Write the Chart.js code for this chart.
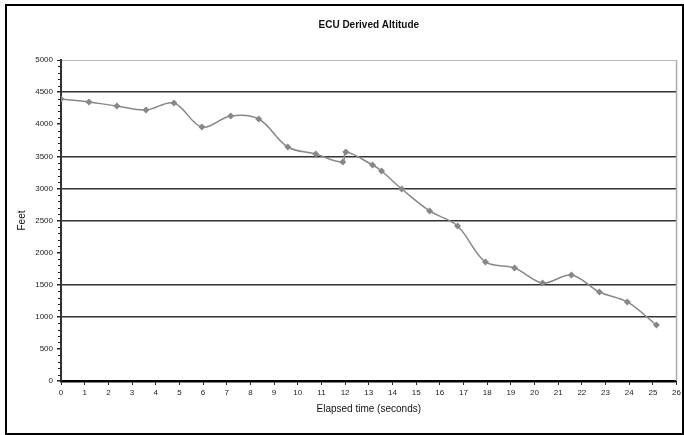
<!DOCTYPE html>
<html>
<head>
<meta charset="utf-8">
<script src="https://cdn.jsdelivr.net/npm/chart.js@4/dist/chart.umd.min.js"></script>
<style>
  html, body { margin: 0; padding: 0; background: #fff; }
  #wrap { position: relative; width: 684px; height: 435px; }
  #frame { position: absolute; left: 5px; top: 4px; width: 675px; height: 427px;
           border: 2px solid #000; pointer-events: none; }
  canvas { position: absolute; left: 0; top: 0; }
</style>
</head>
<body>
<div id="wrap">
  <canvas id="c" width="684" height="435"></canvas>
  <div id="frame"></div>
</div>
<script>
// Elapsed time (s) and ECU-derived altitude (ft)
const elapsedSeconds = [0, 1.18, 2.36, 3.59, 4.77, 5.95, 7.17, 8.35, 9.58, 10.76, 11.9, 12.03,
  13.16, 13.54, 14.39, 15.57, 16.75, 17.93, 19.16, 20.34, 21.56, 22.74, 23.92, 25.15];
const altitudeFeet = [4393, 4346, 4283, 4221, 4330, 3956, 4128, 4081, 3645, 3536, 3411, 3567,
  3364, 3271, 2991, 2648, 2414, 1854, 1760, 1526, 1651, 1386, 1231, 872];

const titleText = 'ECU Derived Altitude';
const xTitle = 'Elapsed time (seconds)';
const yTitle = 'Feet';

// gridlines that are drawn strongly; others are left out
const strongGrid = [1000, 1500, 2500, 3000, 3500, 4500];

const points = elapsedSeconds.map((t, i) => ({ x: t, y: altitudeFeet[i] }));

const decorations = {
  id: 'decorations',
  afterDraw(chart) {
    const { ctx, chartArea: a, scales } = chart;
    ctx.save();
    // right edge of the plot
    ctx.strokeStyle = '#aaa';
    ctx.lineWidth = 1.5;
    ctx.beginPath();
    ctx.moveTo(a.right, a.top);
    ctx.lineTo(a.right, a.bottom);
    ctx.stroke();
    // minor ticks on the value axis
    ctx.strokeStyle = '#222';
    ctx.lineWidth = 1;
    for (let v = 100; v < 5000; v += 100) {
      if (v % 500 === 0) continue;
      const y = Math.round(scales.y.getPixelForValue(v)) + 0.5;
      ctx.beginPath();
      ctx.moveTo(a.left - 3, y);
      ctx.lineTo(a.left, y);
      ctx.stroke();
    }
    const cx = (a.left + a.right) / 2;
    ctx.fillStyle = '#111';
    ctx.textAlign = 'center';
    ctx.textBaseline = 'middle';
    ctx.font = 'bold 10px "Liberation Sans", Arial, sans-serif';
    ctx.fillText(titleText, cx, 25);
    ctx.font = '10px "Liberation Sans", Arial, sans-serif';
    ctx.fillText(xTitle, cx, 409);
    ctx.translate(22, (a.top + a.bottom) / 2);
    ctx.rotate(-Math.PI / 2);
    ctx.fillText(yTitle, 0, 0);
    ctx.restore();
  }
};

new Chart(document.getElementById('c'), {
  type: 'line',
  data: {
    datasets: [{
      data: points,
      borderColor: '#888',
      backgroundColor: '#888',
      borderWidth: 1.5,
      tension: 0.35,
      pointStyle: 'rectRot',
      pointRadius: 3.5,
      pointBorderWidth: 0,
      fill: false
    }]
  },
  options: {
    responsive: false,
    animation: false,
    layout: { padding: { left: 10, right: 7, top: 60, bottom: 10 } },
    plugins: { legend: { display: false }, tooltip: { enabled: false } },
    scales: {
      x: {
        type: 'linear',
        min: 0, max: 26,
        ticks: { stepSize: 1, color: '#222', padding: 3,
                 font: { size: 8, family: '"Liberation Sans", Arial, sans-serif' } },
        grid: { drawOnChartArea: false, drawTicks: true, tickLength: 4, tickColor: '#222' },
        border: { color: '#000', width: 2.5 },
        afterFit(s) { s.height = 44; }
      },
      y: {
        min: 0, max: 5000,
        ticks: { stepSize: 500, color: '#222', padding: 4,
                 callback: v => String(v),
                 font: { size: 8, family: '"Liberation Sans", Arial, sans-serif' } },
        grid: {
          drawTicks: true, tickLength: 4, tickColor: '#222',
          color: c => {
            const v = c.tick && c.tick.value;
            if (v === 5000) return '#bbb';
            return strongGrid.includes(v) ? '#333' : 'rgba(0,0,0,0)';
          },
          lineWidth: c => (c.tick && c.tick.value === 5000) ? 1 : 1.5
        },
        border: { color: '#333', width: 2 },
        afterFit(s) { s.width = 51; }
      }
    }
  },
  plugins: [decorations]
});
</script>
</body>
</html>
